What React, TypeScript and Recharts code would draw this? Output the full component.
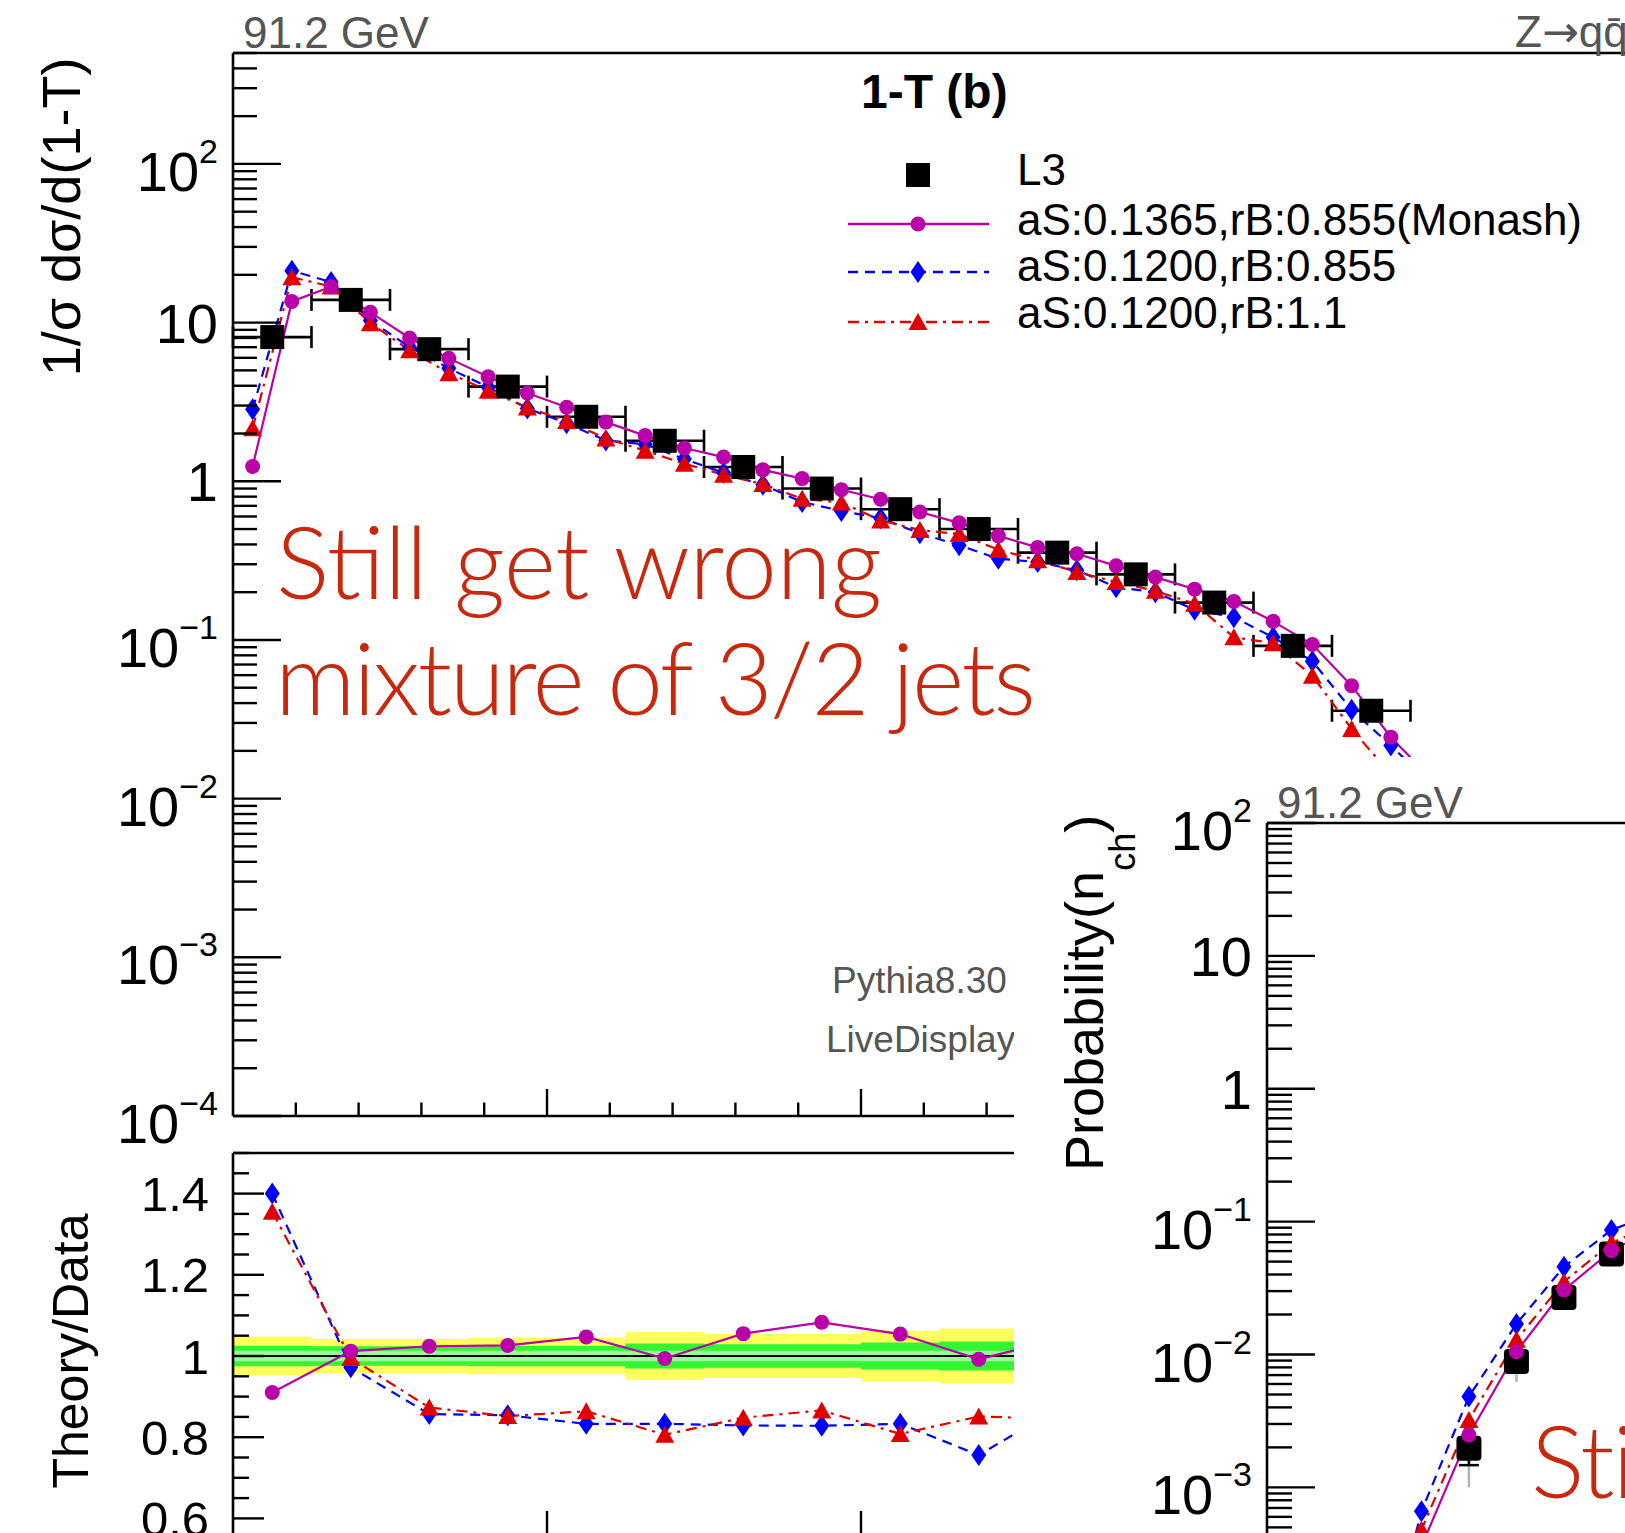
import React from 'react';
import {
  ComposedChart,
  Line,
  Scatter,
  Area,
  XAxis,
  YAxis,
  ErrorBar,
  ReferenceLine,
} from 'recharts';

const FONT = "'Liberation Sans', Arial, Helvetica, sans-serif";
const SLIDE_FONT = "Lato, 'Open Sans', sans-serif";
const GREY = '#555555';
const MAGENTA = '#b900a9';
const BLUE = '#0000ff';
const RED = '#e00000';
const SLIDE_RED = '#c8290e';
const YELLOW = '#ffff5e';
const GREEN = '#33f533';
const LIGHT_GREEN = '#99f999';

// 1-T at 91.2 GeV, L3 bins (centres) and values
const l3Bins = [0.0125, 0.0375, 0.0625, 0.0875, 0.1125, 0.1375, 0.1625, 0.1875, 0.2125, 0.2375, 0.2625, 0.2875, 0.3125, 0.3375, 0.3625];
const l3Values = [8.1, 13.9, 6.8, 3.95, 2.55, 1.8, 1.23, 0.9, 0.667, 0.5, 0.355, 0.259, 0.172, 0.0918, 0.0358];
const l3HalfBin = 0.0125;

// Pythia 8.30 predictions, finer binning
const mcBins = [0.00625, 0.01875, 0.03125, 0.04375, 0.05625, 0.06875, 0.08125, 0.09375, 0.10625, 0.11875, 0.13125, 0.14375, 0.15625, 0.16875, 0.18125, 0.19375, 0.20625, 0.21875, 0.23125, 0.24375, 0.25625, 0.26875, 0.28125, 0.29375, 0.30625, 0.31875, 0.33125, 0.34375, 0.35625, 0.36875, 0.38125];
const monash = [1.24, 13.6, 16.8, 11.6, 8.0, 5.95, 4.55, 3.6, 2.93, 2.36, 1.94, 1.62, 1.42, 1.18, 1.04, 0.885, 0.77, 0.64, 0.547, 0.453, 0.383, 0.349, 0.293, 0.249, 0.209, 0.175, 0.131, 0.0936, 0.0515, 0.0244, 0.0136];
const as1200 = [2.84, 21.2, 18.0, 10.3, 7.0, 5.15, 3.92, 2.88, 2.32, 1.81, 1.71, 1.38, 1.13, 0.95, 0.74, 0.65, 0.585, 0.47, 0.395, 0.325, 0.31, 0.275, 0.215, 0.2, 0.155, 0.139, 0.104, 0.0735, 0.0363, 0.0216, 0.0125];
const as1200rb11 = [2.16, 19.3, 16.9, 9.9, 6.7, 4.8, 3.72, 2.92, 2.4, 1.86, 1.56, 1.29, 1.1, 0.96, 0.775, 0.735, 0.567, 0.493, 0.465, 0.37, 0.318, 0.268, 0.232, 0.204, 0.169, 0.104, 0.0955, 0.0594, 0.0275, 0.0142, 0.0075];

// theory / data in the L3 bins
const ratioBins = [0.0125, 0.0375, 0.0625, 0.0875, 0.1125, 0.1375, 0.1625, 0.1875, 0.2125, 0.2375, 0.2625];
const ratioMonash = [0.91, 1.012, 1.024, 1.026, 1.047, 0.994, 1.055, 1.083, 1.054, 0.992, 1.04];
const ratioAs1200 = [1.4, 0.972, 0.857, 0.854, 0.833, 0.833, 0.829, 0.828, 0.833, 0.756, 0.87];
const ratioAs1200rb11 = [1.355, 0.995, 0.873, 0.852, 0.864, 0.806, 0.848, 0.866, 0.808, 0.851, 0.845];

// data uncertainty bands (half widths per bin)
const bandEdges = [0, 0.025, 0.05, 0.075, 0.1, 0.125, 0.15, 0.175, 0.2, 0.225, 0.25];
const totalErr = [0.048, 0.042, 0.042, 0.045, 0.045, 0.059, 0.054, 0.054, 0.062, 0.068];
const statErr = [0.025, 0.024, 0.024, 0.025, 0.025, 0.031, 0.029, 0.029, 0.033, 0.036];
const innerErr = 0.013;

// charged multiplicity
const nchDataBins = [8, 10, 12, 14, 16];
const nchData = [1.97e-3, 8.85e-3, 2.68e-2, 5.71e-2, 9.0e-2];
const nchDataErrLow = [0.97e-3, 2.65e-3, 0, 0, 0];
const nchDataStatLow = [0.5e-3, 0, 0, 0, 0];
const nchMonashBins = [6, 8, 10, 12, 14, 16];
const nchMonash = [3.6e-4, 2.48e-3, 1.05e-2, 3.06e-2, 6.04e-2, 9.3e-2];
const nchMcBins = [4, 6, 8, 10, 12, 14, 16];
const nchAs1200 = [2.6e-5, 6.6e-4, 4.82e-3, 1.7e-2, 4.58e-2, 8.65e-2, 0.118];
const nchAs1200rb11 = [1.4e-5, 4.8e-4, 3.22e-3, 1.29e-2, 3.53e-2, 6.9e-2, 0.1];

const pts = (xs: number[], ys: number[]) => xs.map((x, i) => ({ x, y: ys[i] }));

const l3Points = l3Bins.map((x, i) => ({ x, y: l3Values[i], ex: l3HalfBin }));
const monashPts = pts(mcBins, monash);
const as1200Pts = pts(mcBins, as1200);
const as1200rb11Pts = pts(mcBins, as1200rb11);

const ratioMonashPts = pts(ratioBins, ratioMonash);
const ratioAs1200Pts = pts(ratioBins, ratioAs1200);
const ratioAs1200rb11Pts = pts(ratioBins, ratioAs1200rb11);

const bandData = bandEdges.map((x, i) => {
  const k = Math.min(i, totalErr.length - 1);
  return {
    x,
    total: [1 - totalErr[k], 1 + totalErr[k]],
    stat: [1 - statErr[k], 1 + statErr[k]],
    inner: [1 - innerErr, 1 + innerErr],
  };
});

const nchDataPts = nchDataBins.map((x, i) => ({
  x,
  y: nchData[i],
  eLow: [nchDataErrLow[i], 0],
  eStat: [nchDataStatLow[i], 0],
}));
const nchMonashPts = pts(nchMonashBins, nchMonash);
const nchAs1200Pts = pts(nchMcBins, nchAs1200);
const nchAs1200rb11Pts = pts(nchMcBins, nchAs1200rb11);

// axis tick positions
function logTicks(lo: number, hi: number, top: number) {
  const out: number[] = [];
  for (let e = lo; e <= hi; e++) {
    for (let m = 1; m <= 9; m++) {
      const v = m * Math.pow(10, e);
      if (v <= top * 1.0001) out.push(v);
    }
  }
  return out;
}
const mainYTicks = logTicks(-4, 2, 500);
const nchYTicks = logTicks(-6, 2, 100);
const xTicks: number[] = [];
for (let i = 1; i < 25; i++) xTicks.push(i * 0.02);
const ratioYTicks: number[] = [];
for (let i = 0; i <= 20; i++) ratioYTicks.push(0.5 + i * 0.05);

// markers
const Square = ({ cx, cy, s = 24, rx = 0 }: any) => (
  <rect x={cx - s / 2} y={cy - s / 2} width={s} height={s} rx={rx} fill="#000" />
);
const Dot = ({ cx, cy }: any) => <circle cx={cx} cy={cy} r={7.5} fill={MAGENTA} />;
const Diamond = ({ cx, cy }: any) => (
  <polygon points={`${cx},${cy - 11} ${cx + 7.5},${cy} ${cx},${cy + 11} ${cx - 7.5},${cy}`} fill={BLUE} />
);
const Triangle = ({ cx, cy }: any) => (
  <polygon points={`${cx},${cy - 9} ${cx + 9.5},${cy + 8} ${cx - 9.5},${cy + 8}`} fill={RED} />
);

const dotWith = (M: any) => (p: any) => <M key={`m-${p.index}`} cx={p.cx} cy={p.cy} />;

const BLUE_DASH = '10 7';
const RED_DASH = '11 6 3 6';

// ticks drawn inward, ROOT style
const xTick = (majorLen: number, minorLen: number) => (props: any) => {
  const { x, y, payload } = props;
  const v = payload.value / 0.1;
  const major = Math.abs(v - Math.round(v)) < 1e-6;
  return <line x1={x} y1={y} x2={x} y2={y - (major ? majorLen : minorLen)} stroke="#000" strokeWidth={2.4} />;
};

const logYTick = (fs: number, supFs: number, majorLen: number, minorLen: number) => (props: any) => {
  const { x, y, payload } = props;
  const lg = Math.log10(payload.value);
  const e = Math.round(lg);
  const major = Math.abs(lg - e) < 1e-6;
  let label = null;
  if (major && (e === 0 || e === 1)) {
    label = (
      <text x={x - 15} y={y + fs * 0.36} textAnchor="end" fontSize={fs} fontFamily={FONT} fill="#000">
        {e === 0 ? '1' : '10'}
      </text>
    );
  } else if (major) {
    label = (
      <text x={x - 15} y={y + 27} textAnchor="end" fontSize={fs} fontFamily={FONT} fill="#000">
        10
        <tspan dy={-28} fontSize={supFs}>
          {e < 0 ? `\u2212${-e}` : `${e}`}
        </tspan>
      </text>
    );
  }
  return (
    <g>
      <line x1={x} y1={y} x2={x + (major ? majorLen : minorLen)} y2={y} stroke="#000" strokeWidth={2.4} />
      {label}
    </g>
  );
};

const ratioYTick = (props: any) => {
  const { x, y, payload } = props;
  const v = payload.value;
  const major = Math.abs(v * 5 - Math.round(v * 5)) < 1e-6;
  return (
    <g>
      <line x1={x} y1={y} x2={x + (major ? 31 : 16)} y2={y} stroke="#000" strokeWidth={2.4} />
      {major && (
        <text x={x - 24} y={y + 17.5} textAnchor="end" fontSize={49} fontFamily={FONT} fill="#000">
          {Math.abs(v - 1) < 1e-6 ? '1' : v.toFixed(1)}
        </text>
      )}
    </g>
  );
};

const AXIS_LINE = { stroke: '#000', strokeWidth: 2.6 };

// axes get a 1px band so recharts still draws them; ticks sit right on the axis line
function ThrustPanel() {
  return (
    <ComposedChart width={1823} height={1180} margin={{ top: 53, right: 20, bottom: 63, left: 232 }}>
      <XAxis
        type="number"
        dataKey="x"
        domain={[0, 0.5]}
        allowDataOverflow
        ticks={xTicks}
        interval={0}
        height={1}
        tickSize={0}
        tickMargin={0}
        tickLine={false}
        tick={xTick(27, 13.5)}
        axisLine={AXIS_LINE}
      />
      <YAxis
        type="number"
        dataKey="y"
        scale="log"
        domain={[1e-4, 500]}
        allowDataOverflow
        ticks={mainYTicks}
        interval={0}
        width={1}
        tickSize={0}
        tickMargin={0}
        tickLine={false}
        tick={logYTick(56, 34, 48, 24)}
        axisLine={AXIS_LINE}
      />
      <ReferenceLine y={500} stroke="#000" strokeWidth={2.6} />
      <Scatter data={l3Points} dataKey="y" shape={(p: any) => <Square cx={p.cx} cy={p.cy} />} isAnimationActive={false}>
        <ErrorBar dataKey="ex" direction="x" width={11} stroke="#000" strokeWidth={2.6} />
      </Scatter>
      <Line data={as1200Pts} dataKey="y" stroke={BLUE} strokeWidth={2.2} strokeDasharray={BLUE_DASH} dot={dotWith(Diamond)} activeDot={false} isAnimationActive={false} />
      <Line data={as1200rb11Pts} dataKey="y" stroke={RED} strokeWidth={2.2} strokeDasharray={RED_DASH} dot={dotWith(Triangle)} activeDot={false} isAnimationActive={false} />
      <Line data={monashPts} dataKey="y" stroke={MAGENTA} strokeWidth={2.2} dot={dotWith(Dot)} activeDot={false} isAnimationActive={false} />
    </ComposedChart>
  );
}

function RatioPanel() {
  return (
    <ComposedChart width={1823} height={500} margin={{ top: 53, right: 20, bottom: 40, left: 232 }}>
      <XAxis
        type="number"
        dataKey="x"
        domain={[0, 0.5]}
        allowDataOverflow
        ticks={xTicks}
        interval={0}
        height={1}
        tickSize={0}
        tickMargin={0}
        tickLine={false}
        tick={xTick(48, 24)}
        axisLine={AXIS_LINE}
      />
      <YAxis
        type="number"
        domain={[0.5, 1.5]}
        allowDataOverflow
        ticks={ratioYTicks}
        interval={0}
        width={1}
        tickSize={0}
        tickMargin={0}
        tickLine={false}
        tick={ratioYTick}
        axisLine={AXIS_LINE}
      />
      <Area data={bandData} dataKey="total" type="stepAfter" stroke="none" fill={YELLOW} fillOpacity={1} isAnimationActive={false} />
      <Area data={bandData} dataKey="stat" type="stepAfter" stroke="none" fill={GREEN} fillOpacity={1} isAnimationActive={false} />
      <Area data={bandData} dataKey="inner" type="stepAfter" stroke="none" fill={LIGHT_GREEN} fillOpacity={1} isAnimationActive={false} />
      <ReferenceLine y={1} stroke="#000" strokeWidth={2} />
      <ReferenceLine y={1.5} stroke="#000" strokeWidth={2.6} />
      <Line data={ratioAs1200Pts} dataKey="y" stroke={BLUE} strokeWidth={2.2} strokeDasharray={BLUE_DASH} dot={dotWith(Diamond)} activeDot={false} isAnimationActive={false} />
      <Line data={ratioAs1200rb11Pts} dataKey="y" stroke={RED} strokeWidth={2.2} strokeDasharray={RED_DASH} dot={dotWith(Triangle)} activeDot={false} isAnimationActive={false} />
      <Line data={ratioMonashPts} dataKey="y" stroke={MAGENTA} strokeWidth={2.2} dot={dotWith(Dot)} activeDot={false} isAnimationActive={false} />
    </ComposedChart>
  );
}

function MultiplicityPanel() {
  return (
    <ComposedChart width={1300} height={1200} margin={{ top: 66, right: 73, bottom: 70, left: 252 }}>
      <XAxis type="number" dataKey="x" domain={[-0.5, 40.5]} allowDataOverflow height={1} tick={false} tickLine={false} axisLine={false} />
      <YAxis
        type="number"
        dataKey="y"
        scale="log"
        domain={[1e-6, 100]}
        allowDataOverflow
        ticks={nchYTicks}
        interval={0}
        width={1}
        tickSize={0}
        tickMargin={0}
        tickLine={false}
        tick={logYTick(56, 34, 48, 25)}
        axisLine={AXIS_LINE}
      />
      <ReferenceLine y={100} stroke="#000" strokeWidth={2.6} />
      <Scatter data={nchDataPts} dataKey="y" shape={(p: any) => <Square cx={p.cx} cy={p.cy} s={25} rx={4} />} isAnimationActive={false}>
        <ErrorBar dataKey="eLow" direction="y" width={0} stroke="#b4b4b4" strokeWidth={2.5} />
        <ErrorBar dataKey="eStat" direction="y" width={10} stroke="#000" strokeWidth={2.5} />
      </Scatter>
      <Line data={nchAs1200Pts} dataKey="y" stroke={BLUE} strokeWidth={2.2} strokeDasharray={BLUE_DASH} dot={dotWith(Diamond)} activeDot={false} isAnimationActive={false} />
      <Line data={nchAs1200rb11Pts} dataKey="y" stroke={RED} strokeWidth={2.2} strokeDasharray={RED_DASH} dot={dotWith(Triangle)} activeDot={false} isAnimationActive={false} />
      <Line data={nchMonashPts} dataKey="y" stroke={MAGENTA} strokeWidth={2.2} dot={dotWith(Dot)} activeDot={false} isAnimationActive={false} />
    </ComposedChart>
  );
}

const abs = (left: number, top: number): React.CSSProperties => ({ position: 'absolute', left, top });

export default function App() {
  return (
    <div style={{ position: 'fixed', left: 0, top: 0, width: 1625, height: 1533, overflow: 'hidden', background: '#fff' }}>
      <div style={abs(0, 0)}>
        <ThrustPanel />
      </div>
      <div style={abs(0, 1100)}>
        <RatioPanel />
      </div>

      <svg width={1625} height={1533} style={abs(0, 0)} fontFamily={FONT}>
        <text x={243} y={48} fontSize={44} fill={GREY}>91.2 GeV</text>
        <text x={1515} y={47} fontSize={44} fill={GREY}>
          Z<tspan fontFamily="'DejaVu Sans'">→</tspan>qq&#x0304;
        </text>
        <text transform="rotate(-90)" x={-217} y={80} textAnchor="middle" fontSize={54} fill="#000">
          1/σ dσ/d(1-T)
        </text>
        <text transform="rotate(-90)" x={-1351} y={88} textAnchor="middle" fontSize={50} fill="#000">
          Theory/Data
        </text>

        <text x={861} y={108} fontSize={48} fontWeight="bold" fill="#000">1-T (b)</text>
        <Square cx={918} cy={175} s={24} />
        <text x={1017} y={185} fontSize={44} fill="#000">L3</text>
        <line x1={848} x2={989} y1={224} y2={224} stroke={MAGENTA} strokeWidth={2.4} />
        <Dot cx={918} cy={224} />
        <text x={1017} y={235} fontSize={44} fill="#000">aS:0.1365,rB:0.855(Monash)</text>
        <line x1={848} x2={989} y1={272} y2={272} stroke={BLUE} strokeWidth={2.4} strokeDasharray={BLUE_DASH} />
        <Diamond cx={918} cy={272} />
        <text x={1017} y={281} fontSize={44} fill="#000">aS:0.1200,rB:0.855</text>
        <line x1={848} x2={989} y1={322} y2={322} stroke={RED} strokeWidth={2.4} strokeDasharray={RED_DASH} />
        <Triangle cx={918} cy={322} />
        <text x={1017} y={328} fontSize={44} fill="#000">aS:0.1200,rB:1.1</text>

        <text x={832} y={993} fontSize={37} fill={GREY}>Pythia8.30</text>
        <text x={826} y={1052} fontSize={37} fill={GREY}>LiveDisplay</text>

        <text x={276} y={599} fontSize={100} fontWeight={300} fill={SLIDE_RED} fontFamily={SLIDE_FONT} textLength={606} lengthAdjust="spacing">
          Still get wrong
        </text>
        <text x={275} y={715} fontSize={100} fontWeight={300} fill={SLIDE_RED} fontFamily={SLIDE_FONT} textLength={761} lengthAdjust="spacing">
          mixture of 3/2 jets
        </text>
      </svg>

      <div style={{ ...abs(1014, 757), width: 611, height: 776, background: '#fff' }} />
      <div style={abs(1014, 757)}>
        <MultiplicityPanel />
      </div>

      <svg width={1625} height={1533} style={abs(0, 0)} fontFamily={FONT}>
        <text x={1277} y={818} fontSize={44} fill={GREY}>91.2 GeV</text>
        <text transform="rotate(-90)" x={-1171} y={1103} fontSize={54} fill="#000">
          Probability(n
          <tspan dy={32} fontSize={36}>ch</tspan>
          <tspan dy={-32}>)</tspan>
        </text>
        <text x={1531} y={1498} fontSize={100} fontWeight={300} fill={SLIDE_RED} fontFamily={SLIDE_FONT} letterSpacing={-2}>Still</text>
      </svg>
    </div>
  );
}
